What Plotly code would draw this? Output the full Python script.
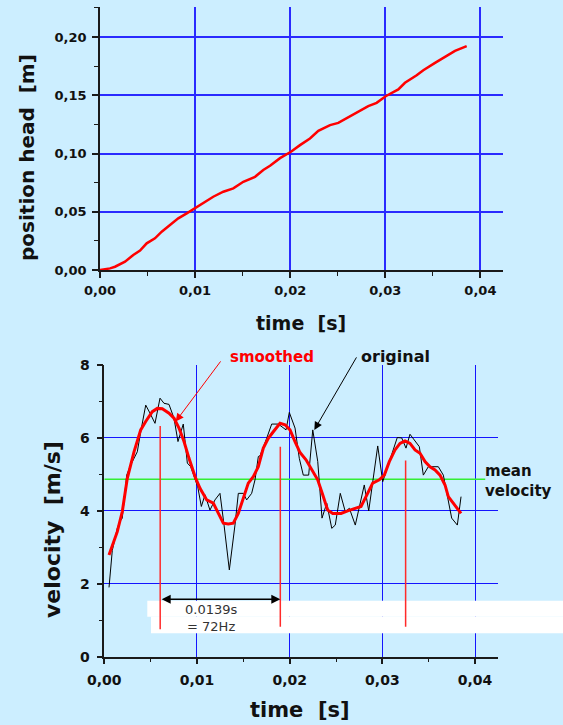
import plotly.graph_objects as go

W, H = 563, 725
BG = '#cceeff'
FONT = 'DejaVu Sans'

# ---------------- data: top chart (position of head) ----------------
pos_time = [0, 0.00105, 0.00158, 0.00263, 0.0035, 0.00421, 0.00491, 0.00578, 0.00649,
            0.00736, 0.00823, 0.00912, 0.00999, 0.01086, 0.01191, 0.01297, 0.01402,
            0.01507, 0.0163, 0.01717, 0.01788, 0.01893, 0.02008, 0.02103, 0.02208,
            0.02296, 0.02419, 0.02506, 0.02611, 0.02716, 0.02821, 0.02909, 0.03004,
            0.03137, 0.03207, 0.0333, 0.034, 0.03523, 0.03628, 0.03733, 0.03856]
pos_head = [0, 0.0014, 0.0028, 0.0071, 0.0129, 0.0166, 0.0229, 0.0272, 0.0329,
            0.0386, 0.0443, 0.0486, 0.0529, 0.0572, 0.0629, 0.0672, 0.0701,
            0.0757, 0.0800, 0.0858, 0.0895, 0.0960, 0.1015, 0.1072, 0.1129,
            0.1195, 0.1244, 0.1263, 0.1309, 0.1358, 0.1407, 0.1435, 0.1492,
            0.1550, 0.1607, 0.1672, 0.1715, 0.1778, 0.1829, 0.1881, 0.1921]

# ---------------- data: bottom chart (velocity) ----------------
orig_time = [0.00051, 0.00086, 0.00140, 0.00166, 0.00194, 0.00242, 0.00285, 0.00356,
             0.00393, 0.00447, 0.00493, 0.00547, 0.00601, 0.00644, 0.00698, 0.00752,
             0.00795, 0.00852, 0.00896, 0.00932, 0.01008, 0.01047, 0.01087, 0.01140,
             0.01194, 0.01248, 0.01292, 0.01349, 0.01410, 0.01446, 0.01500, 0.01536,
             0.01590, 0.01626, 0.01662, 0.01680, 0.01752, 0.01806, 0.01877, 0.01961,
             0.01996, 0.02058, 0.02104, 0.02147, 0.02205, 0.02249, 0.02303, 0.02349,
             0.02400, 0.02454, 0.02492, 0.02546, 0.02600, 0.02644, 0.02708, 0.02805,
             0.02853, 0.02950, 0.03004, 0.03083, 0.03161, 0.03209, 0.03255, 0.03298,
             0.03399, 0.03442, 0.03496, 0.03604, 0.03658, 0.03748, 0.03809, 0.03849]
orig_vel = [1.90, 2.91, 3.52, 3.70, 3.80, 4.98, 5.26, 5.62,
            6.17, 6.90, 6.68, 6.40, 7.09, 6.95, 6.92, 6.54,
            5.90, 6.38, 5.31, 5.21, 4.66, 4.12, 4.44, 4.02,
            4.30, 4.48, 3.61, 2.38, 3.61, 4.48, 4.48, 4.30,
            4.48, 4.85, 5.49, 5.51, 5.99, 6.38, 6.38, 6.22,
            6.70, 6.27, 5.44, 4.98, 4.98, 6.22, 5.35, 3.80,
            4.21, 3.52, 3.61, 4.48, 3.98, 4.07, 3.61, 4.71,
            4.00, 5.78, 4.80, 5.44, 6.01, 6.00, 5.72, 6.10,
            5.76, 4.98, 5.21, 5.21, 4.98, 3.80, 3.61, 4.39]

smooth_time = [0.000507, 0.001403, 0.001942, 0.002482, 0.003205, 0.003927, 0.004467,
               0.005179, 0.005719, 0.006258, 0.006981, 0.007521, 0.008060, 0.008600,
               0.009140, 0.009862, 0.010326, 0.011049, 0.011761, 0.012300, 0.012840,
               0.013379, 0.013919, 0.014458, 0.014998, 0.015537, 0.016077, 0.016616,
               0.017156, 0.017695, 0.018235, 0.018958, 0.019497, 0.020037, 0.020576,
               0.021116, 0.021763, 0.022486, 0.023025, 0.023565, 0.024104, 0.024644,
               0.025540, 0.026262, 0.026975, 0.027698, 0.028237, 0.028960, 0.029672,
               0.030211, 0.030751, 0.031366, 0.031905, 0.032445, 0.032984, 0.033524,
               0.034063, 0.034603, 0.035142, 0.035682, 0.036222, 0.036761, 0.037117,
               0.037840, 0.038487]
smooth_vel = [2.79, 3.43, 3.98, 4.89, 5.62, 6.22, 6.45, 6.72, 6.81, 6.80,
              6.68, 6.54, 6.27, 5.90, 5.44, 4.89, 4.62, 4.30, 4.21, 3.93,
              3.66, 3.64, 3.66, 3.93, 4.35, 4.76, 4.94, 5.21, 5.72, 5.99,
              6.17, 6.40, 6.36, 6.22, 5.90, 5.60, 5.40, 5.08, 4.85, 4.44,
              4.02, 3.93, 3.93, 4.00, 4.05, 4.12, 4.39, 4.76, 4.85, 4.98,
              5.35, 5.67, 5.85, 5.92, 5.85, 5.67, 5.58, 5.35, 5.21, 5.12,
              4.98, 4.71, 4.39, 4.16, 3.93]

mean_velocity = 4.87
mean_time_span = [0.0, 0.0411]

peak_times = [0.00603, 0.01899, 0.03251]
peak_marker_top = [6.33, 5.76, 5.38]
peak_marker_bottom = [0.75, 0.82, 0.82]
period_level = 1.575

# arrow targets (data points the labels point to)
smoothed_arrow_head = (0.0077, 6.45)
smoothed_arrow_tail = (0.01267, 8.14)
original_arrow_head = (0.02266, 6.22)
original_arrow_tail = (0.0273, 8.25)


def px(x):
    return x / W


def py(y):
    return 1 - y / H


fig = go.Figure()

fig.add_trace(go.Scatter(x=pos_time, y=pos_head, mode='lines',
                         line=dict(color='#ff0000', width=2.5),
                         xaxis='x', yaxis='y', showlegend=False, hoverinfo='skip'))
fig.add_trace(go.Scatter(x=mean_time_span, y=[mean_velocity, mean_velocity], mode='lines',
                         line=dict(color='#33ee33', width=1.5),
                         xaxis='x2', yaxis='y2', showlegend=False, hoverinfo='skip'))
fig.add_trace(go.Scatter(x=orig_time, y=orig_vel, mode='lines',
                         line=dict(color='#000000', width=1),
                         xaxis='x2', yaxis='y2', showlegend=False, hoverinfo='skip'))
fig.add_trace(go.Scatter(x=smooth_time, y=smooth_vel, mode='lines',
                         line=dict(color='#ff0000', width=3),
                         xaxis='x2', yaxis='y2', showlegend=False, hoverinfo='skip'))

AX = '#1a1a1a'


def axis(size, **kw):
    d = dict(showline=True, linecolor=AX, linewidth=1.5, ticks='outside', ticklen=6,
             tickwidth=1.5, tickcolor=AX, zeroline=False, showgrid=True, automargin=False,
             tickfont=dict(family=FONT, size=size, color='#111111', weight='bold'),
             fixedrange=True)
    d.update(kw)
    return d


fig.update_layout(
    width=W, height=H,
    margin=dict(l=0, r=0, t=0, b=0, pad=0, autoexpand=False),
    paper_bgcolor=BG, plot_bgcolor=BG,
    separators=',.',
    showlegend=False,
    xaxis=axis(13, domain=[px(100), px(503.3)], range=[0, 0.04241], dtick=0.01,
               tickformat='.2f', anchor='y', gridcolor='#2a2aff', gridwidth=1.5,
               minor=dict(dtick=0.005, ticklen=4, tickcolor=AX, tickwidth=1.2,
                          ticks='outside', showgrid=False),
               ticklabelstandoff=2),
    yaxis=axis(13, domain=[py(270), py(7.3)], range=[0, 0.2255], dtick=0.05,
               tickformat='.2f', anchor='x', gridcolor='#2a2aff', gridwidth=1.5,
               minor=dict(dtick=0.025, ticklen=4, tickcolor=AX, tickwidth=1.2,
                          ticks='outside', showgrid=False),
               ticklabelstandoff=3),
    xaxis2=axis(14, domain=[px(104.3), px(498.3)], range=[0, 0.04251], dtick=0.01,
                tickformat='.2f', anchor='y2', gridcolor='#1414ff', gridwidth=1,
                minor=dict(dtick=0.005, ticklen=4, tickcolor=AX, tickwidth=1.2,
                           ticks='outside', showgrid=False),
                ticklabelstandoff=4),
    yaxis2=axis(14, domain=[py(656.7), py(365)], range=[0, 8], dtick=2,
                tickformat='d', anchor='x2', gridcolor='#1414ff', gridwidth=1,
                minor=dict(dtick=1, ticklen=4, tickcolor=AX, tickwidth=1.2,
                           ticks='outside', showgrid=False),
                ticklabelstandoff=4),
)

shapes = [
    dict(type='rect', xref='paper', yref='paper', x0=px(147.3), x1=1.0,
         y0=py(616.7), y1=py(600.7), fillcolor='white', line=dict(width=0), layer='above'),
    dict(type='rect', xref='paper', yref='paper', x0=px(151), x1=1.0,
         y0=py(633.3), y1=py(616.7), fillcolor='white', line=dict(width=0), layer='above'),
]
for t, top, bot in zip(peak_times, peak_marker_top, peak_marker_bottom):
    shapes.append(dict(type='line', xref='x2', yref='y2', x0=t, x1=t, y0=bot, y1=top,
                       line=dict(color='#ff2a2a', width=1.5), layer='above'))
fig.update_layout(shapes=shapes)


def label(text, x, y, size, color='#111111', bold=True, angle=0, xanchor='center', align='center'):
    fig.add_annotation(text=text, xref='paper', yref='paper', x=px(x), y=py(y),
                       showarrow=False, textangle=angle, xanchor=xanchor, yanchor='middle',
                       align=align, borderpad=0,
                       font=dict(family=FONT, size=size, color=color,
                                 weight='bold' if bold else 'normal'))


label('position head  [m]', 27, 158, 20, angle=-90)
label('time  [s]', 301, 323, 19)
label('velocity  [m/s]', 52, 530, 22, angle=-90)
label('time  [s]', 300, 710, 21)
label('smoothed', 272, 357, 15, color='#ff0000')
label('original', 395, 356, 16)
label('mean<br>velocity', 484, 481, 15, xanchor='left', align='left')
label('0.0139s<br>= 72Hz', 211, 618, 13, color='#333333', bold=False)

fig.add_annotation(text='', x=smoothed_arrow_head[0], y=smoothed_arrow_head[1],
                   xref='x2', yref='y2', ax=smoothed_arrow_tail[0], ay=smoothed_arrow_tail[1],
                   axref='x2', ayref='y2', showarrow=True, arrowhead=2, arrowsize=1.6,
                   arrowwidth=1, arrowcolor='#ff0000', standoff=0)
fig.add_annotation(text='', x=original_arrow_head[0], y=original_arrow_head[1],
                   xref='x2', yref='y2', ax=original_arrow_tail[0], ay=original_arrow_tail[1],
                   axref='x2', ayref='y2', showarrow=True, arrowhead=2, arrowsize=1.6,
                   arrowwidth=1, arrowcolor='#000000', standoff=0)
fig.add_annotation(text='', x=peak_times[1], y=period_level, xref='x2', yref='y2',
                   ax=peak_times[0], ay=period_level, axref='x2', ayref='y2',
                   showarrow=True, arrowhead=2, startarrowhead=2, arrowside='end+start',
                   arrowsize=1.2, arrowwidth=1.5, arrowcolor='#000000',
                   standoff=0, startstandoff=0)

fig.write_html('out.html',
               config={'displayModeBar': False, 'responsive': False},
               post_script="document.body.style.margin='0';"
                           "document.body.style.overflow='hidden';")
